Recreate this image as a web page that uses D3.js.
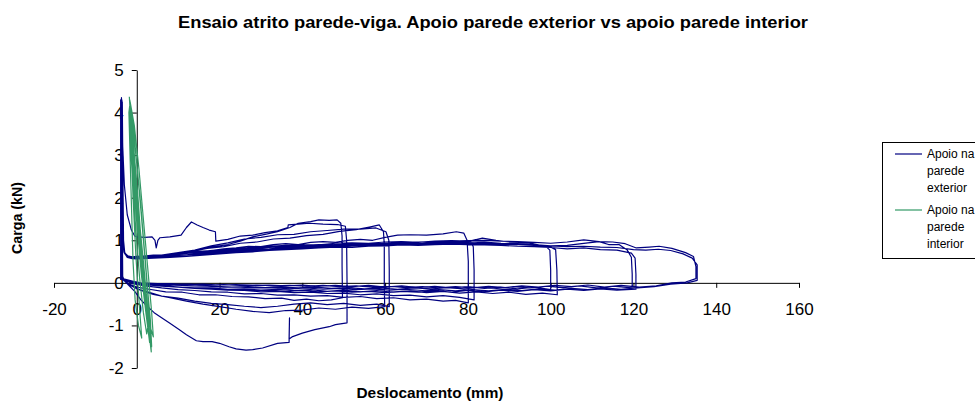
<!DOCTYPE html>
<html>
<head>
<meta charset="utf-8">
<script src="https://cdn.jsdelivr.net/npm/d3@7"></script>
<style>
  body { margin: 0; background: #fff; }
  text { font-family: "Liberation Sans", Arial, sans-serif; }
</style>
</head>
<body>
<script>
var width = 975;
var height = 403;

var chartTitle = "Ensaio atrito parede-viga. Apoio parede exterior vs apoio parede interior";
var xTitle = "Deslocamento (mm)";
var yTitle = "Carga (kN)";
var xTicks = [-20, 0, 20, 40, 60, 80, 100, 120, 140, 160];
var yTicks = [-2, -1, 0, 1, 2, 3, 4, 5];
var seriesNames = [["Apoio na", "parede", "exterior"], ["Apoio na", "parede", "interior"]];

// Apoio na parede exterior - ciclos [deslocamento, carga]
var exteriorCycle1 = [[-3.4,0.05],[-3.6,1.5],[-3.6,4.3],[-3.4,3.2],[-3.0,2.3],[-2.3,1.6],[-1.3,1.24],[-0.5,1.1],[0.1,1.08],[2,1.07],[3.7,1.08],[4.4,1.0],[4.7,0.82],[5.1,1.0],[5.6,1.06],[8,1.08],[10.7,1.12],[12,1.3],[13.2,1.43],[14.6,1.36],[16,1.3],[17.5,1.24],[19,1.2],[19.1,0.98],[22,1.02],[25,1.1],[28,1.12],[31,1.18],[34,1.22],[36.5,1.3],[36.6,1.36],[39,1.38],[41.7,1.4],[45,1.38],[48.5,1.37],[50.4,1.33],[50.7,1.0],[50.8,0],[50.8,-0.94],[48,-0.98],[46.5,-1.03],[43,-1.1],[40,-1.18],[37.5,-1.27],[36.8,-1.32],[36.9,-0.82],[36.8,-1.4],[34,-1.42],[30.4,-1.53],[28,-1.57],[26.4,-1.58],[24,-1.55],[22.3,-1.5],[20,-1.42],[18.2,-1.38],[16,-1.38],[14.4,-1.36],[12,-1.22],[10.3,-1.1],[8,-0.95],[6,-0.82],[4.2,-0.7],[2.5,-0.55],[1,-0.4],[-0.5,-0.2],[-2,-0.05],[-3,0.05],[-3.4,0.15]];
var exteriorCycle2 = [[-3.7,0.08],[-3.8,1.5],[-3.8,4.3],[-3.5,2.2],[-3.4,1.1],[-3.1,0.74],[-2.4,0.64],[-1.2,0.61],[1,0.62],[4,0.65],[7,0.66],[10,0.71],[14,0.76],[18,0.84],[22,0.9],[25,0.98],[28,1.08],[31,1.14],[34,1.2],[37,1.3],[39,1.4],[42,1.44],[44,1.48],[46.5,1.47],[48.4,1.48],[49.3,1.4],[49.6,1.1],[49.6,0.4],[49.7,-0.35],[47,-0.4],[44,-0.42],[41,-0.38],[38,-0.41],[35,-0.36],[31,-0.37],[27,-0.33],[23,-0.32],[19,-0.28],[15,-0.28],[11,-0.22],[7,-0.21],[3,-0.15],[0,-0.1],[-2,-0.02],[-3.2,0.06]];
var exteriorCycle3 = [[-3.4,0.1],[-3.5,1.3],[-3.5,4.2],[-3.3,2.0],[-3.2,1.0],[-2.9,0.7],[-2.2,0.62],[-1,0.6],[2,0.61],[5,0.63],[9,0.69],[13,0.73],[17,0.81],[21,0.85],[25,0.93],[29,0.96],[33,1.03],[37,1.05],[41,1.11],[45,1.14],[49,1.21],[53,1.25],[56.2,1.31],[58.6,1.36],[59.6,1.2],[59.8,0.9],[59.8,0],[59.9,-0.56],[56,-0.6],[52,-0.57],[48,-0.62],[44,-0.59],[40,-0.64],[36,-0.65],[32,-0.7],[28,-0.67],[24,-0.62],[20,-0.56],[16,-0.5],[12,-0.43],[8,-0.35],[4,-0.27],[1,-0.18],[-1.5,-0.06],[-3.1,0.06]];
var exteriorCycle4 = [[-3.8,0.12],[-3.9,1.4],[-3.9,4.25],[-3.6,1.8],[-3.3,0.95],[-2.9,0.7],[-2,0.62],[0,0.6],[3,0.62],[6,0.65],[10,0.71],[14,0.77],[18,0.87],[22,0.94],[26,1.03],[30,1.07],[34,1.13],[38,1.14],[42,1.2],[46,1.23],[50,1.26],[54,1.26],[57.8,1.29],[60.2,1.2],[60.9,1.0],[61,0.3],[61,-0.56],[58,-0.5],[54,-0.53],[50,-0.48],[46,-0.51],[42,-0.47],[38,-0.5],[34,-0.55],[30,-0.58],[26,-0.55],[22,-0.51],[18,-0.48],[14,-0.43],[10,-0.36],[6,-0.31],[3,-0.22],[0,-0.14],[-2,-0.04],[-3.3,0.08]];
var exteriorCycle5 = [[-3.6,0.08],[-3.6,1.3],[-3.6,4.3],[-3.4,1.9],[-3.3,0.95],[-3.0,0.7],[-2.2,0.63],[-1,0.61],[0,0.62],[3,0.6],[6,0.65],[9,0.68],[12,0.7],[15,0.74],[18,0.76],[21,0.8],[24,0.82],[27,0.86],[30,0.85],[33,0.9],[36,0.92],[39,0.9],[42,0.95],[45,0.97],[48,0.95],[51,1.0],[54,1.02],[57,1.0],[60,1.07],[63,1.12],[66,1.13],[70,1.12],[74,1.15],[77.2,1.2],[79,1.17],[79.8,1.0],[80.1,0.5],[80.1,-0.47],[77,-0.41],[74,-0.43],[70,-0.38],[66,-0.4],[62,-0.35],[58,-0.37],[54,-0.32],[50,-0.34],[46,-0.3],[42,-0.31],[38,-0.28],[34,-0.29],[30,-0.25],[26,-0.26],[22,-0.22],[18,-0.21],[14,-0.18],[10,-0.16],[6,-0.12],[2,-0.07],[-1,-0.02],[-3,0.06]];
var exteriorCycle6 = [[-3.7,0.1],[-3.7,1.2],[-3.7,4.35],[-3.5,2.1],[-3.4,1.0],[-3.1,0.72],[-2.3,0.6],[-1.1,0.57],[0,0.57],[4,0.58],[8,0.6],[12,0.63],[16,0.66],[20,0.68],[24,0.72],[28,0.74],[32,0.76],[36,0.79],[40,0.8],[44,0.83],[48,0.84],[52,0.86],[56,0.88],[60,0.87],[64,0.9],[68,0.92],[72,0.91],[76,0.95],[79,0.97],[80.8,0.95],[81.3,0.85],[81.5,0.3],[81.5,-0.4],[78,-0.34],[74,-0.3],[70,-0.33],[66,-0.29],[62,-0.3],[58,-0.26],[54,-0.28],[50,-0.24],[46,-0.25],[42,-0.22],[38,-0.23],[34,-0.2],[30,-0.21],[26,-0.18],[22,-0.17],[18,-0.15],[14,-0.13],[10,-0.1],[6,-0.08],[2,-0.04],[-1,0],[-3.2,0.08]];
var exteriorCycle7 = [[-3.4,0.08],[-3.5,1.4],[-3.5,4.2],[-3.3,1.7],[-3.2,0.9],[-2.9,0.68],[-2.1,0.61],[-1,0.6],[0,0.6],[4,0.63],[8,0.66],[12,0.7],[16,0.74],[20,0.78],[24,0.8],[28,0.84],[32,0.86],[36,0.88],[40,0.9],[44,0.89],[48,0.93],[52,0.94],[56,0.93],[60,0.96],[64,0.97],[68,0.95],[72,0.98],[76,0.99],[80,0.97],[83.5,1.05],[86.8,1.0],[90,0.96],[94.8,0.94],[98.9,0.85],[99.8,0.77],[100,0.3],[100,-0.16],[96,-0.1],[92,-0.14],[88,-0.1],[84,-0.13],[80,-0.09],[76,-0.12],[72,-0.08],[68,-0.11],[64,-0.07],[60,-0.1],[56,-0.06],[52,-0.09],[48,-0.06],[44,-0.08],[40,-0.05],[36,-0.07],[32,-0.05],[28,-0.06],[24,-0.04],[20,-0.05],[16,-0.03],[12,-0.04],[8,-0.02],[4,-0.02],[0,0],[-3.3,0.08]];
var exteriorCycle8 = [[-3.8,0.1],[-3.8,1.3],[-3.8,4.3],[-3.6,2.0],[-3.3,1.0],[-3.0,0.71],[-2.2,0.62],[-1,0.59],[0,0.59],[4,0.6],[8,0.62],[12,0.66],[16,0.68],[20,0.71],[24,0.74],[28,0.76],[32,0.78],[36,0.81],[40,0.82],[44,0.85],[48,0.86],[52,0.88],[56,0.87],[60,0.9],[64,0.91],[68,0.89],[72,0.92],[76,0.93],[80,0.91],[84,0.94],[88,0.92],[92,0.9],[96,0.88],[100,0.84],[101.2,0.78],[101.5,0.3],[101.6,-0.28],[98,-0.24],[94,-0.27],[90,-0.22],[86,-0.25],[82,-0.21],[78,-0.24],[74,-0.2],[70,-0.23],[66,-0.19],[62,-0.22],[58,-0.18],[54,-0.21],[50,-0.17],[46,-0.2],[42,-0.16],[38,-0.18],[34,-0.15],[30,-0.17],[26,-0.14],[22,-0.15],[18,-0.12],[14,-0.12],[10,-0.1],[6,-0.07],[2,-0.04],[-1,0.0],[-3.4,0.1]];
var exteriorCycle9 = [[-3.5,0.1],[-3.5,1.2],[-3.5,4.25],[-3.3,1.8],[-3.2,0.9],[-2.9,0.69],[-2.0,0.62],[-1,0.61],[0,0.62],[4,0.64],[8,0.67],[12,0.7],[16,0.73],[20,0.77],[24,0.79],[28,0.82],[32,0.84],[36,0.86],[40,0.88],[44,0.9],[48,0.89],[52,0.92],[56,0.93],[60,0.92],[64,0.95],[68,0.96],[72,0.94],[76,0.97],[80,0.95],[84,0.96],[88,0.93],[92,0.92],[96,0.9],[100,0.87],[104,0.88],[109,0.94],[111.7,0.97],[114,0.9],[116.5,0.9],[118.5,0.77],[119.5,0.6],[119.7,0.2],[119.7,-0.12],[115,-0.08],[111,-0.12],[107,-0.07],[103,-0.11],[99,-0.08],[95,-0.12],[91,-0.09],[87,-0.13],[83,-0.1],[79,-0.14],[75,-0.11],[71,-0.14],[67,-0.12],[63,-0.15],[59,-0.12],[55,-0.14],[51,-0.11],[47,-0.13],[43,-0.1],[39,-0.12],[35,-0.1],[31,-0.11],[27,-0.09],[23,-0.1],[19,-0.08],[15,-0.07],[11,-0.06],[7,-0.05],[3,-0.03],[-1,0.01],[-3.3,0.08]];
var exteriorCycle10 = [[-3.9,0.08],[-3.9,1.4],[-3.9,4.3],[-3.6,2.0],[-3.4,1.0],[-3.0,0.7],[-2.1,0.6],[-1,0.57],[0,0.56],[4,0.58],[8,0.6],[12,0.62],[16,0.65],[20,0.68],[24,0.71],[28,0.73],[32,0.76],[36,0.78],[40,0.8],[44,0.82],[48,0.84],[52,0.83],[56,0.86],[60,0.87],[64,0.89],[68,0.88],[72,0.9],[76,0.91],[80,0.9],[84,0.89],[88,0.88],[92,0.86],[96,0.85],[100,0.83],[104,0.8],[108,0.82],[112,0.78],[116,0.77],[119.5,0.7],[120.4,0.58],[120.6,0.2],[120.6,-0.15],[116,-0.17],[112,-0.14],[108,-0.18],[104,-0.15],[100,-0.19],[96,-0.16],[92,-0.2],[88,-0.17],[84,-0.21],[80,-0.18],[76,-0.22],[72,-0.19],[68,-0.22],[64,-0.2],[60,-0.23],[56,-0.2],[52,-0.22],[48,-0.19],[44,-0.21],[40,-0.18],[36,-0.2],[32,-0.17],[28,-0.18],[24,-0.15],[20,-0.15],[16,-0.12],[12,-0.11],[8,-0.08],[4,-0.05],[0,-0.02],[-3.2,0.07]];
var exteriorCycle11 = [[-3.6,0.09],[-3.6,1.3],[-3.6,4.3],[-3.4,1.9],[-3.3,0.95],[-3.0,0.7],[-2.1,0.62],[-1,0.61],[0,0.61],[4,0.63],[8,0.65],[12,0.69],[16,0.72],[20,0.75],[24,0.78],[28,0.8],[32,0.83],[36,0.85],[40,0.87],[44,0.88],[48,0.9],[52,0.91],[56,0.9],[60,0.93],[64,0.94],[68,0.96],[72,0.95],[76,0.98],[80,0.99],[84,1.0],[88,0.98],[92,0.97],[96,0.95],[100,0.93],[104,0.96],[108,1.01],[111.7,0.97],[115,0.96],[118,0.92],[120.7,0.82],[123.8,0.84],[126.2,0.86],[129.3,0.81],[132.6,0.71],[134.5,0.62],[135.1,0.38],[135.1,0.1],[132.6,0.02],[129.3,0.0],[125.5,-0.07],[121.4,-0.1],[117,-0.06],[113,-0.1],[109,-0.05],[105,-0.09],[101,-0.06],[97,-0.1],[93,-0.07],[89,-0.11],[85,-0.08],[81,-0.12],[77,-0.09],[73,-0.12],[69,-0.09],[65,-0.11],[61,-0.08],[57,-0.1],[53,-0.07],[49,-0.09],[45,-0.06],[41,-0.08],[37,-0.06],[33,-0.07],[29,-0.05],[25,-0.06],[21,-0.04],[17,-0.05],[13,-0.03],[9,-0.03],[5,-0.02],[1,0.0],[-3.3,0.08]];
var exteriorCycle12 = [[-3.7,0.1],[-3.7,1.4],[-3.7,4.25],[-3.5,2.0],[-3.4,1.0],[-3.1,0.72],[-2.2,0.61],[-1,0.58],[0,0.58],[4,0.61],[8,0.63],[12,0.66],[16,0.7],[20,0.72],[24,0.76],[28,0.78],[32,0.8],[36,0.83],[40,0.84],[44,0.86],[48,0.87],[52,0.89],[56,0.9],[60,0.89],[64,0.92],[68,0.93],[72,0.92],[76,0.94],[80,0.93],[84,0.92],[88,0.91],[92,0.9],[96,0.88],[100,0.87],[104,0.85],[108,0.86],[112,0.84],[116,0.83],[120,0.78],[123,0.77],[126,0.79],[129,0.76],[132,0.68],[134.2,0.58],[135.4,0.42],[135.4,0.06],[133,0.0],[129,-0.03],[125,-0.09],[121,-0.12],[117,-0.15],[113,-0.12],[109,-0.16],[105,-0.13],[101,-0.17],[97,-0.14],[93,-0.18],[89,-0.15],[85,-0.19],[81,-0.16],[77,-0.19],[73,-0.16],[69,-0.18],[65,-0.15],[61,-0.17],[57,-0.14],[53,-0.16],[49,-0.13],[45,-0.15],[41,-0.12],[37,-0.14],[33,-0.11],[29,-0.12],[25,-0.1],[21,-0.1],[17,-0.08],[13,-0.07],[9,-0.05],[5,-0.04],[1,-0.01],[-3.4,0.1]];

// Apoio na parede interior
var interiorPoints = [[-1.8,4.37],[-1.2,3.3],[-0.5,2.2],[0.5,1.0],[1.5,-0.1],[2.5,-0.8],[3.5,-1.62],[3.2,-1.0],[2.3,0.2],[1.2,1.5],[0.2,2.6],[-0.8,3.6],[-1.5,4.1],[-1.2,3.5],[-0.3,2.3],[0.8,1.0],[1.8,-0.1],[2.8,-0.9],[4.0,-1.27],[3.6,-0.7],[2.6,0.4],[1.5,1.6],[0.5,2.7],[-0.6,3.7],[-1.6,4.25],[-1.9,4.0],[-1.4,2.2],[-0.9,0.5],[-0.4,-0.4],[0.4,-1.0],[1.2,-1.3],[0.6,-0.5],[-0.2,0.6],[-0.9,2.0],[-1.4,3.4],[-1.7,4.2],[-1.4,3.7],[-0.7,2.7],[0.2,1.6],[1.0,0.5],[2.0,-0.5],[3.0,-1.2],[3.4,-1.35],[3.0,-0.6],[2.0,0.6],[0.9,1.9],[-0.2,3.0],[-1.0,3.9],[-1.7,4.3],[-1.0,3.2],[-0.1,2.0],[0.9,0.8],[1.9,-0.3],[2.9,-1.1],[3.6,-1.5],[3.3,-0.9],[2.2,0.3],[1.0,1.7],[0.0,2.8],[-1.1,3.8],[-1.8,4.1],[-1.5,3.2],[-1.0,2.4],[-0.2,1.2],[0.7,0.1],[1.6,-0.7],[2.4,-1.2],[2.7,-1.0],[1.9,-0.1],[1.1,0.9],[0.3,2.0],[-0.5,2.9],[-1.3,3.9],[-1.6,3.6],[-0.9,2.5],[0.1,1.3],[1.1,0.2],[2.2,-0.7],[3.1,-1.4],[2.8,-0.8],[1.7,0.4],[0.6,1.5],[-0.4,2.5],[-1.4,3.5]];

var exteriorPoints = [].concat(exteriorCycle1, exteriorCycle2, exteriorCycle3, exteriorCycle4,
    exteriorCycle5, exteriorCycle6, exteriorCycle7, exteriorCycle8,
    exteriorCycle9, exteriorCycle10, exteriorCycle11, exteriorCycle12);

var colours = ["#000080", "#339966"];

var svg = d3.select("body").append("svg")
    .attr("width", width)
    .attr("height", height);

var x = d3.scaleLinear().domain([-20, 160]).range([54, 799]);
var y = d3.scaleLinear().domain([-2, 5]).range([368, 70]);

svg.append("text")
    .attr("x", 493).attr("y", 28)
    .attr("text-anchor", "middle")
    .attr("font-weight", "bold")
    .attr("font-size", 17)
    .attr("textLength", 630)
    .attr("lengthAdjust", "spacingAndGlyphs")
    .text(chartTitle);

// eixo x (cruza em y = 0)
var xAxis = svg.append("g")
    .attr("transform", "translate(0," + y(0) + ")")
    .call(d3.axisBottom(x).tickValues(xTicks).tickSize(5).tickSizeOuter(0).tickFormat(function(d){ return String(d); }));
xAxis.selectAll("text").attr("y", 32).attr("dy", null).attr("font-size", 17).attr("fill", "#000");

// eixo y (cruza em x = 0)
var yAxis = svg.append("g")
    .attr("transform", "translate(" + x(0) + ",0)")
    .call(d3.axisLeft(y).tickValues(yTicks).tickSize(5).tickSizeOuter(0).tickPadding(8).tickFormat(function(d){ return String(d); }));
yAxis.selectAll("text").attr("font-size", 17).attr("fill", "#000");

svg.selectAll(".domain, .tick line").attr("stroke", "#000");
svg.selectAll("g").attr("font-family", null);

var line = d3.line()
    .x(function(d){ return x(d[0]); })
    .y(function(d){ return y(d[1]); });

svg.append("path")
    .attr("d", line(exteriorPoints))
    .attr("fill", "none")
    .attr("stroke", colours[0])
    .attr("stroke-width", 1.2)
    .attr("stroke-linejoin", "round");

svg.append("path")
    .attr("d", line(interiorPoints))
    .attr("fill", "none")
    .attr("stroke", colours[1])
    .attr("stroke-width", 1.2)
    .attr("stroke-linejoin", "round");

svg.append("text")
    .attr("transform", "translate(22,218) rotate(-90)")
    .attr("text-anchor", "middle")
    .attr("font-weight", "bold")
    .attr("font-size", 14)
    .attr("textLength", 72)
    .attr("lengthAdjust", "spacingAndGlyphs")
    .text(yTitle);

svg.append("text")
    .attr("x", 430).attr("y", 398)
    .attr("text-anchor", "middle")
    .attr("font-weight", "bold")
    .attr("font-size", 14)
    .attr("textLength", 147)
    .attr("lengthAdjust", "spacingAndGlyphs")
    .text(xTitle);

// legenda
var legend = svg.append("g").attr("transform", "translate(882,142)");
legend.append("rect")
    .attr("x", 0.5).attr("y", 0.5)
    .attr("width", 130).attr("height", 116)
    .attr("fill", "#fff").attr("stroke", "#000");
seriesNames.forEach(function(names, i){
    var top = 12 + i * 56;
    legend.append("line")
        .attr("x1", 13).attr("x2", 40)
        .attr("y1", top).attr("y2", top)
        .attr("stroke", colours[i]).attr("stroke-width", 1.2);
    names.forEach(function(t, j){
        legend.append("text")
            .attr("x", 45).attr("y", top + j * 17)
            .attr("dy", "0.35em")
            .attr("font-size", 12)
            .text(t);
    });
});
</script>
</body>
</html>
